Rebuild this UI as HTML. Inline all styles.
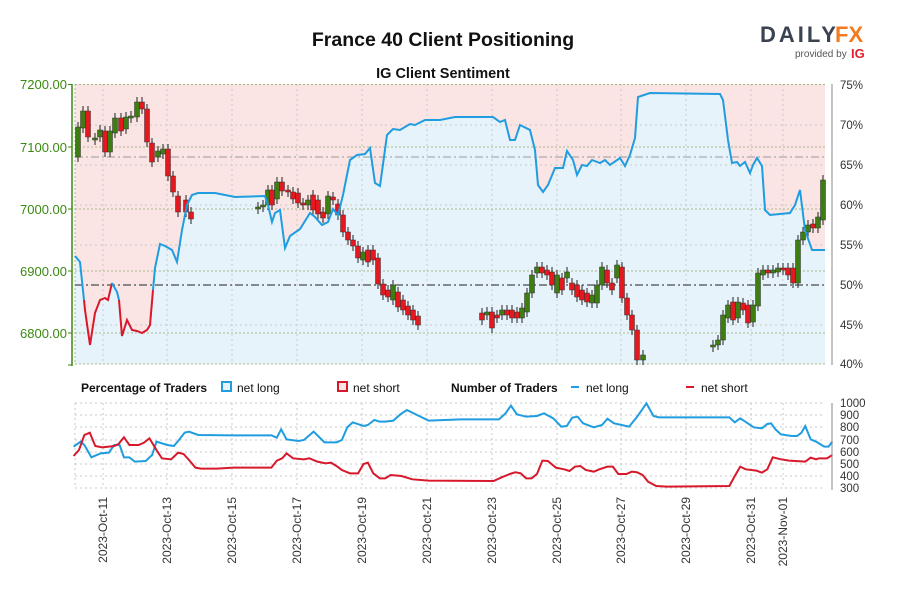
<!DOCTYPE html>
<html><head><meta charset="utf-8"><style>
body{margin:0;background:#fff;width:900px;height:600px;overflow:hidden;font-family:"Liberation Sans",sans-serif}
svg{display:block}
</style></head><body>
<svg id="s" width="900" height="600" xmlns="http://www.w3.org/2000/svg" font-family="Liberation Sans, sans-serif">
<text x="443" y="46" text-anchor="middle" font-size="19.5" font-weight="bold" fill="#111">France 40 Client Positioning</text>
<text x="443" y="78" text-anchor="middle" font-size="14.5" font-weight="bold" fill="#111">IG Client Sentiment</text>
<text x="760" y="42" font-size="22" font-weight="bold" fill="#3c4350" letter-spacing="3">DAILY</text>
<text x="835" y="42" font-size="22" font-weight="bold" fill="#f47a20">FX</text>
<text x="795" y="57" font-size="10" fill="#555">provided by</text>
<text x="851" y="58" font-size="13" font-weight="bold" fill="#e0222c">IG</text>

<rect x="75" y="84" width="750" height="280" fill="#fbe4e4"/>
<polygon fill="#e6f3fb" points="75,364 75,256 80,262 85,310 90,345 95,313 100,300 105,298 108,300 112,283 117,292 122,336 127,320 132,330 137,331 142,333 147,330 150,325 155,268 160,244 165,246 172,250 177,262 182,230 187,205 192,195 198,193 215,193 235,197 265,196 268,205 272,222 275,213 280,210 285,248 290,236 300,229 310,213 315,217 322,225 328,222 333,209 338,215 343,195 350,160 357,155 365,154 370,148 375,183 380,186 387,135 393,129 400,130 410,124 415,125 425,120 440,120 455,117 493,117 500,122 505,120 510,140 515,140 520,125 530,130 535,150 538,185 543,192 548,185 555,168 563,168 567,151 573,160 577,175 582,165 587,166 592,160 600,163 605,160 610,165 620,158 625,166 630,155 635,138 638,97 650,93 720,94 723,100 728,140 732,163 737,162 740,166 745,162 750,173 753,165 757,158 762,166 765,210 770,215 790,213 795,205 800,190 805,230 812,250 825,250 825,364"/>
<g stroke="#c9c9c9" stroke-dasharray="2,3" stroke-width="1">
<line x1="103" y1="84" x2="103" y2="364"/><line x1="167" y1="84" x2="167" y2="364"/><line x1="232" y1="84" x2="232" y2="364"/><line x1="297" y1="84" x2="297" y2="364"/><line x1="362" y1="84" x2="362" y2="364"/><line x1="427" y1="84" x2="427" y2="364"/><line x1="492" y1="84" x2="492" y2="364"/><line x1="557" y1="84" x2="557" y2="364"/><line x1="621" y1="84" x2="621" y2="364"/><line x1="686" y1="84" x2="686" y2="364"/><line x1="751" y1="84" x2="751" y2="364"/><line x1="783" y1="84" x2="783" y2="364"/>
<line x1="75" y1="125" x2="825" y2="125"/><line x1="75" y1="205" x2="825" y2="205"/><line x1="75" y1="245" x2="825" y2="245"/><line x1="75" y1="325" x2="825" y2="325"/><line x1="75" y1="165" x2="825" y2="165"/>
</g>
<g stroke="#a8b88a" stroke-dasharray="2,2" stroke-width="1">
<line x1="75" y1="84.5" x2="825" y2="84.5"/><line x1="75" y1="147" x2="825" y2="147"/><line x1="75" y1="209" x2="825" y2="209"/><line x1="75" y1="271" x2="825" y2="271"/><line x1="75" y1="333" x2="825" y2="333"/><line x1="75" y1="364" x2="825" y2="364"/><line x1="75" y1="84" x2="75" y2="364"/>
</g>
<line x1="75" y1="157" x2="825" y2="157" stroke="#999" stroke-dasharray="8,3,2,3"/>
<line x1="75" y1="285" x2="825" y2="285" stroke="#666" stroke-width="1.5" stroke-dasharray="8,3,2,3"/>
<g id="candles"></g>
<polyline fill="none" stroke="#1f9de0" stroke-width="2" points="75,256 80,262 84,300"/>
<polyline fill="none" stroke="#d7192b" stroke-width="2" points="84,300 85,310 90,345 95,313 100,300 105,298 108,300 112,283"/>
<polyline fill="none" stroke="#1f9de0" stroke-width="2" points="112,283 117,292 119,300"/>
<polyline fill="none" stroke="#d7192b" stroke-width="2" points="119,300 122,336 127,320 132,330 137,331 142,333 147,330 150,325 153,290"/>
<polyline fill="none" stroke="#1f9de0" stroke-width="2" points="153,290 155,268 160,244 165,246 172,250 177,262 182,230 187,205 192,195 198,193 215,193 235,197 265,196 268,205 272,222 275,213 280,210 285,248 290,236 300,229 310,213 315,217 322,225 328,222 333,209 338,215 343,195 350,160 357,155 365,154 370,148 375,183 380,186 387,135 393,129 400,130 410,124 415,125 425,120 440,120 455,117 493,117 500,122 505,120 510,140 515,140 520,125 530,130 535,150 538,185 543,192 548,185 555,168 563,168 567,151 573,160 577,175 582,165 587,166 592,160 600,163 605,160 610,165 620,158 625,166 630,155 635,138 638,97 650,93 720,94 723,100 728,140 732,163 737,162 740,166 745,162 750,173 753,165 757,158 762,166 765,210 770,215 790,213 795,205 800,190 805,230 812,250 825,250"/>
<line x1="72" y1="84" x2="72" y2="366" stroke="#3a8a10" stroke-width="1.5"/>
<g stroke="#3a8a10"><line x1="68" y1="84.5" x2="72" y2="84.5"/><line x1="68" y1="147" x2="72" y2="147"/><line x1="68" y1="209" x2="72" y2="209"/><line x1="68" y1="271" x2="72" y2="271"/><line x1="68" y1="333" x2="72" y2="333"/><line x1="68" y1="365" x2="72" y2="365"/></g>
<g fill="#3a8a10" font-size="13" text-anchor="end">
<text x="67" y="89">7200.00</text><text x="67" y="152">7100.00</text><text x="67" y="214">7000.00</text><text x="67" y="276">6900.00</text><text x="67" y="338">6800.00</text></g>
<line x1="832" y1="84" x2="832" y2="365" stroke="#888"/>
<g fill="#333" font-size="11.5">
<text x="840" y="89">75%</text><text x="840" y="129">70%</text><text x="840" y="169">65%</text><text x="840" y="209">60%</text><text x="840" y="249">55%</text><text x="840" y="289">50%</text><text x="840" y="329">45%</text><text x="840" y="368">40%</text></g>

<g font-size="12" fill="#111">
<text x="81" y="392" font-weight="bold">Percentage of Traders</text>
<rect x="222" y="382" width="9" height="9" fill="#e6f3fb" stroke="#1f9de0" stroke-width="2"/>
<text x="237" y="392">net long</text>
<rect x="338" y="382" width="9" height="9" fill="#fbe4e4" stroke="#d7192b" stroke-width="2"/>
<text x="353" y="392">net short</text>
<text x="451" y="392" font-weight="bold">Number of Traders</text>
<line x1="571" y1="387" x2="579" y2="387" stroke="#1f9de0" stroke-width="2"/><text x="586" y="392">net long</text>
<line x1="686" y1="387" x2="694" y2="387" stroke="#d7192b" stroke-width="2"/><text x="701" y="392">net short</text>
</g>
<g stroke="#c9c9c9" stroke-dasharray="2,3">
<line x1="75" y1="403" x2="825" y2="403"/><line x1="75" y1="415" x2="825" y2="415"/><line x1="75" y1="427" x2="825" y2="427"/><line x1="75" y1="440" x2="825" y2="440"/><line x1="75" y1="452" x2="825" y2="452"/><line x1="75" y1="464" x2="825" y2="464"/><line x1="75" y1="476" x2="825" y2="476"/><line x1="75" y1="488" x2="825" y2="488"/>
<line x1="75" y1="403" x2="75" y2="488"/>
<line x1="103" y1="403" x2="103" y2="488"/><line x1="167" y1="403" x2="167" y2="488"/><line x1="232" y1="403" x2="232" y2="488"/><line x1="297" y1="403" x2="297" y2="488"/><line x1="362" y1="403" x2="362" y2="488"/><line x1="427" y1="403" x2="427" y2="488"/><line x1="492" y1="403" x2="492" y2="488"/><line x1="557" y1="403" x2="557" y2="488"/><line x1="621" y1="403" x2="621" y2="488"/><line x1="686" y1="403" x2="686" y2="488"/><line x1="751" y1="403" x2="751" y2="488"/><line x1="783" y1="403" x2="783" y2="488"/>
</g>
<g transform="translate(60,370) scale(0.542,0.3333)" fill="none" stroke-width="2">
<polyline vector-effect="non-scaling-stroke" stroke="#1f9de0" points="25,230 38,215 45,225 58,262 75,250 90,248 100,225 110,225 118,262 128,262 138,275 158,273 170,255 178,215 198,225 210,228 218,213 230,188 238,185 255,195 320,196 390,196 400,203 408,178 418,208 440,213 450,210 468,185 488,217 510,217 520,210 530,172 540,157 560,168 568,165 580,150 590,155 600,155 615,152 628,133 640,120 655,132 680,152 740,148 770,148 810,148 822,130 832,107 843,133 860,140 880,138 893,130 910,145 925,170 935,168 945,143 955,140 965,160 985,172 1000,165 1010,146 1022,160 1050,170 1065,140 1082,100 1095,138 1105,142 1235,142 1245,157 1255,145 1280,172 1295,175 1305,162 1312,160 1320,178 1330,193 1350,198 1360,198 1368,188 1375,168 1385,208 1395,215 1410,230 1418,230 1425,215"/>
<polyline vector-effect="non-scaling-stroke" stroke="#d7192b" points="25,258 35,240 45,195 55,188 65,228 78,232 100,228 108,222 118,202 128,225 145,225 155,218 165,205 178,240 188,265 205,268 218,248 228,252 238,270 250,293 260,296 290,296 320,293 390,293 400,272 410,265 418,250 430,265 450,268 460,265 475,275 490,280 500,278 510,288 520,300 535,310 550,310 560,282 568,278 578,310 590,325 600,325 610,315 630,318 650,328 680,332 800,333 815,322 830,312 840,307 850,310 860,325 870,325 880,312 890,272 900,273 915,293 930,298 940,303 950,290 960,288 970,300 985,305 995,298 1010,290 1020,290 1030,312 1045,312 1055,305 1065,307 1075,315 1085,335 1100,348 1120,350 1235,348 1245,318 1255,290 1265,298 1285,302 1295,308 1305,298 1315,262 1330,268 1345,272 1375,275 1385,263 1395,268 1400,265 1415,265 1425,255"/>
</g>
<line x1="832" y1="403" x2="832" y2="490" stroke="#888"/>
<g fill="#333" font-size="11.5">
<text x="840" y="407">1000</text><text x="840" y="419">900</text><text x="840" y="431">800</text><text x="840" y="444">700</text><text x="840" y="456">600</text><text x="840" y="468">500</text><text x="840" y="480">400</text><text x="840" y="492">300</text></g>
<g fill="#333" font-size="12" text-anchor="end">
<text transform="translate(107,497) rotate(-90)">2023-Oct-11</text>
<text transform="translate(171,497) rotate(-90)">2023-Oct-13</text>
<text transform="translate(236,497) rotate(-90)">2023-Oct-15</text>
<text transform="translate(301,497) rotate(-90)">2023-Oct-17</text>
<text transform="translate(366,497) rotate(-90)">2023-Oct-19</text>
<text transform="translate(431,497) rotate(-90)">2023-Oct-21</text>
<text transform="translate(496,497) rotate(-90)">2023-Oct-23</text>
<text transform="translate(561,497) rotate(-90)">2023-Oct-25</text>
<text transform="translate(625,497) rotate(-90)">2023-Oct-27</text>
<text transform="translate(690,497) rotate(-90)">2023-Oct-29</text>
<text transform="translate(755,497) rotate(-90)">2023-Oct-31</text>
<text transform="translate(787,497) rotate(-90)">2023-Nov-01</text>
</g>
</svg>
<script>
var c=[[78,127,157,'g'],[83,111,128,'g'],[88,111,137,'r'],[95,138,140,'g'],[100,130,137,'g'],[105,131,152,'r'],[110,131,152,'g'],[115,118,133,'g'],[121,118,131,'r'],[126,117,129,'g'],[131,116,118,'g'],[137,102,117,'g'],[142,102,109,'r'],[147,109,142,'r'],[152,143,162,'r'],[158,151,157,'g'],[163,149,154,'g'],[168,149,176,'r'],[173,176,192,'r'],[178,196,212,'r'],[186,200,212,'r'],[191,212,219,'r'],
[258,207,209,'g'],[263,205,207,'g'],[268,190,205,'g'],[272,190,205,'r'],[277,182,199,'g'],[282,182,191,'r'],[288,190,192,'r'],[293,192,199,'r'],[298,193,203,'r'],[303,203,205,'r'],[308,200,205,'g'],[313,195,210,'r'],[318,200,214,'r'],[323,212,218,'r'],[328,196,214,'g'],[333,197,200,'r'],[338,204,215,'r'],[343,215,232,'r'],[348,232,240,'r'],[353,240,246,'r'],[358,246,258,'r'],[363,252,260,'g'],[368,250,262,'r'],[373,250,260,'r'],[378,258,284,'r'],[383,284,295,'r'],[388,290,297,'r'],[393,285,300,'g'],[398,292,307,'r'],[403,300,310,'r'],[408,306,315,'r'],[413,310,320,'r'],[418,316,325,'r'],
[482,313,320,'r'],[487,312,315,'g'],[492,312,328,'r'],[497,315,318,'r'],[502,310,315,'g'],[507,310,315,'r'],[512,310,318,'r'],[517,312,318,'r'],[522,308,318,'g'],[527,293,312,'g'],[532,275,293,'g'],[537,267,273,'g'],[542,267,273,'r'],[547,270,275,'r'],[552,272,285,'r'],[557,275,293,'g'],[562,278,290,'r'],[567,272,278,'g'],[572,283,290,'r'],[577,285,297,'r'],[582,290,300,'r'],[587,293,302,'r'],[592,295,303,'g'],[597,285,303,'g'],[602,267,285,'g'],[607,270,283,'r'],[612,283,290,'r'],[617,265,278,'g'],[622,267,298,'r'],[627,298,315,'r'],[632,315,330,'r'],[637,330,360,'r'],[643,355,360,'g'],
[713,345,347,'g'],[718,340,345,'g'],[723,315,340,'g'],[728,305,318,'g'],[733,302,320,'r'],[738,302,318,'g'],[743,303,310,'r'],[748,305,323,'r'],[753,305,322,'g'],[758,273,306,'g'],[763,270,275,'g'],[768,270,273,'r'],[773,270,273,'g'],[778,268,272,'g'],[783,268,270,'r'],[788,268,275,'r'],[793,268,283,'r'],[798,240,283,'g'],[803,232,240,'g'],[808,225,232,'g'],[813,224,228,'r'],[818,217,228,'g'],[823,180,220,'g']];
var h='';c.forEach(function(d){var t=d[1],b=d[2];h+='<line x1="'+d[0]+'" x2="'+d[0]+'" y1="'+(t-5)+'" y2="'+(b+5)+'" stroke="#222" stroke-width="1"/>';h+='<rect x="'+(d[0]-2.5)+'" y="'+t+'" width="5" height="'+Math.max(2,b-t)+'" fill="'+(d[3]=='g'?'#3d7d12':'#e3191f')+'" stroke="#333" stroke-width="0.5"/>';});
document.getElementById('candles').innerHTML=h;
</script>
</body></html>
